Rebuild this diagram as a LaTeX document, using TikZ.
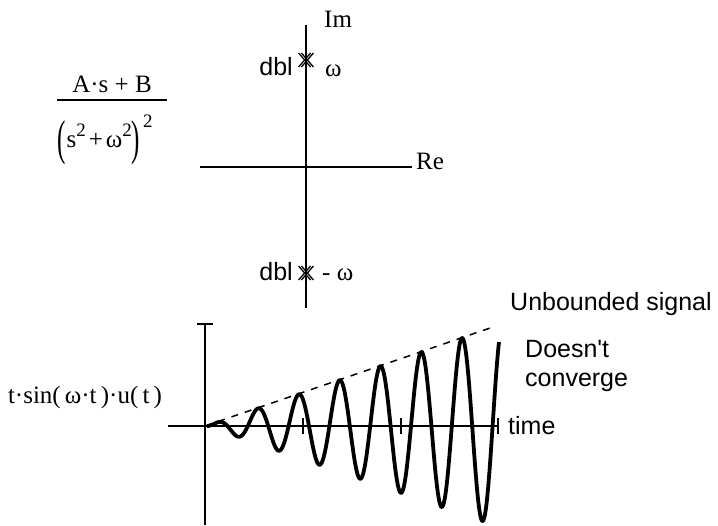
\documentclass[tikz,border=0pt]{standalone}
\usepackage{fontspec}
\usepackage{graphicx}
\setmainfont{Liberation Serif}
\newfontfamily\arialf{Liberation Sans}
\newcommand\supat[1]{\raisebox{#1pt}{\fontsize{19}{19}\selectfont 2}}
\newcommand\bigpl{\raisebox{-7pt}{\scalebox{1}[1.95]{(}}}
\newcommand\bigpr{\raisebox{-7pt}{\scalebox{1}[1.95]{)}}}
\begin{document}
\begin{tikzpicture}[x=1pt,y=-1pt,
  tm/.style={font=\fontsize{25}{30}\selectfont, inner sep=0pt},
  ar/.style={font=\arialf\fontsize{25}{29}\selectfont, inner sep=0pt},
  axisline/.style={line width=1.6pt},
  polemark/.style={line width=1.3pt},
  signal/.style={line width=3.8pt, line join=round},
  envelope/.style={line width=1.5pt, dash pattern=on 7pt off 7pt}]
\useasboundingbox (0,0) rectangle (718,526);

% ---------- pole plot ----------
\draw[axisline] (306,25) -- (306,308);
\draw[axisline] (200,167) -- (412,167);
\node[tm, anchor=base west] (im) at (324,28) {Im};
\node[tm, anchor=base west] (re) at (416,170) {Re};

\coordinate (p1) at (306,60);
\coordinate (p2) at (306,273);
\foreach \pp in {p1,p2}{
  \foreach \dx in {-1.4,1.4}{
    \draw[polemark] ([xshift=\dx pt]\pp) ++(-6,-7) -- ++(12,14);
    \draw[polemark] ([xshift=\dx pt]\pp) ++(6,-7) -- ++(-12,14);
  }
}
\node[ar, anchor=base east] (dbl1) at (293,76) {dbl};
\node[tm, anchor=base west] (w1) at (325,77) {ω};
\node[ar, anchor=base east] (dbl2) at (293,281) {dbl};
\node[tm, anchor=base west] (w2) at (322,281) {- ω};

% ---------- fraction ----------
\node[tm, anchor=base] (num) at (112,93) {A·s + B};
\draw[line width=1.3pt] (57,100) -- (167,100);
\node[tm, anchor=base west] (den) at (57,148) {\bigpl\kern1pt s\supat{11}\kern3pt+\kern3pt ω\supat{11}\bigpr\kern3pt\supat{20}};

% ---------- time plot ----------
\draw[axisline] (205,324) -- (205,525);
\draw[axisline] (197,324) -- (213,324);
\draw[axisline] (168,426) -- (498,426);
\foreach \tx in {303,401,498}{
  \draw[axisline] (\tx,418) -- (\tx,434);
}
\draw[envelope] (205,426) -- (493,327);
\draw[signal] plot[domain=0:292, samples=600] ({207+\x},{426-0.345*\x*sin(8.8235*\x)});

\node[tm, anchor=base] (ft) at (85,404) {t·sin(\,ω·t\,)·u(\,t\,)};
\node[ar, anchor=base west] (unb) at (510,311) {Unbounded signal};
\node[ar, anchor=base west] (dc1) at (525,358) {Doesn't};
\node[ar, anchor=base west] (dc2) at (525,387) {converge};
\node[ar, anchor=base west] (time) at (508,435) {time};
\end{tikzpicture}
\end{document}
